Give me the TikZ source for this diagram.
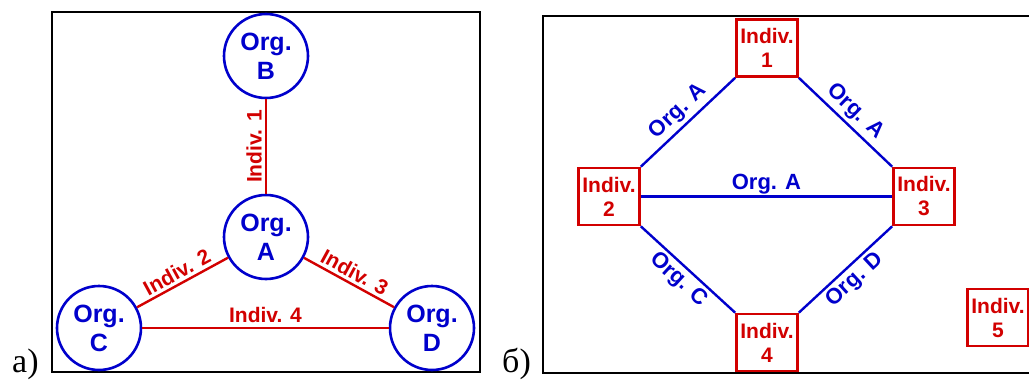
\documentclass[tikz,border=0pt]{standalone}
\usepackage{fontspec}
\setmainfont{Liberation Sans}
\newfontfamily\panelfont{Liberation Serif}
\definecolor{oblue}{RGB}{0,0,204}
\definecolor{ired}{RGB}{210,0,0}
\begin{document}
\begin{tikzpicture}[x=1pt,y=-1pt,
  org/.style={circle,draw=oblue,line width=2.6pt,fill=white,minimum size=84pt,inner sep=0pt,align=center,text=oblue,font=\fontsize{25}{29}\selectfont\bfseries},
  ind/.style={rectangle,draw=ired,line width=2.6pt,fill=white,minimum width=61pt,minimum height=57pt,inner sep=0pt,align=center,text=ired,font=\fontsize{21}{24}\selectfont\bfseries},
  redline/.style={draw=ired,line width=2.4pt},
  blueline/.style={draw=oblue,line width=2.4pt},
  rlab/.style={text=ired,font=\fontsize{21}{24}\selectfont\bfseries,inner sep=3pt},
  blab/.style={text=oblue,font=\fontsize{22}{26}\selectfont\bfseries,inner sep=3pt},
  panelframe/.style={draw=black,line width=2pt},
  panellab/.style={font=\panelfont\fontsize{34}{40}\selectfont,anchor=base west,inner sep=0pt}]
\useasboundingbox (0,0) rectangle (1029,380);
\fill[white] (0,0) rectangle (1029,380);

% panel a
\draw[panelframe] (52,12) rectangle (480,372);
\node[panellab] (la) at (12,372) {a)};
\node[org] (B) at (266,56) {Org.\\B};
\node[org] (A) at (266,237) {Org.\\A};
\node[org] (C) at (99,328) {Org.\\C};
\node[org] (D) at (432,328) {Org.\\D};
\draw[redline] (A) -- (B) node[midway,rotate=90,anchor=south,rlab]{Indiv. 1};
\draw[redline] (C) -- (A) node[midway,sloped,above,rlab]{Indiv. 2};
\draw[redline] (A) -- (D) node[midway,sloped,above,rlab]{Indiv. 3};
\draw[redline] (C) -- (D) node[midway,above,rlab,inner sep=4pt]{Indiv. 4};

% panel b
\draw[panelframe] (543,16) rectangle (1040,373);
\node[panellab] (lb) at (502,372) {б)};
\node[ind] (n1) at (767,48) {Indiv.\\1};
\node[ind] (n2) at (609,196.5) {Indiv.\\2};
\node[ind] (n3) at (924,196.5) {Indiv.\\3};
\node[ind] (n4) at (767,342.5) {Indiv.\\4};
\node[ind] (n5) at (998,317.5) {Indiv.\\5};
\draw[blueline] (n2.north east) -- (n1.south west) node[midway,sloped,above,blab]{Org. A};
\draw[blueline] (n1.south east) -- (n3.north west) node[midway,sloped,above,blab]{Org. A};
\draw[blueline] (n2) -- (n3) node[midway,above,blab,inner sep=1pt]{Org. A};
\draw[blueline] (n2.south east) -- (n4.north west) node[midway,sloped,below,blab]{Org. C};
\draw[blueline] (n4.north east) -- (n3.south west) node[midway,sloped,below,blab]{Org. D};
\end{tikzpicture}
\end{document}
